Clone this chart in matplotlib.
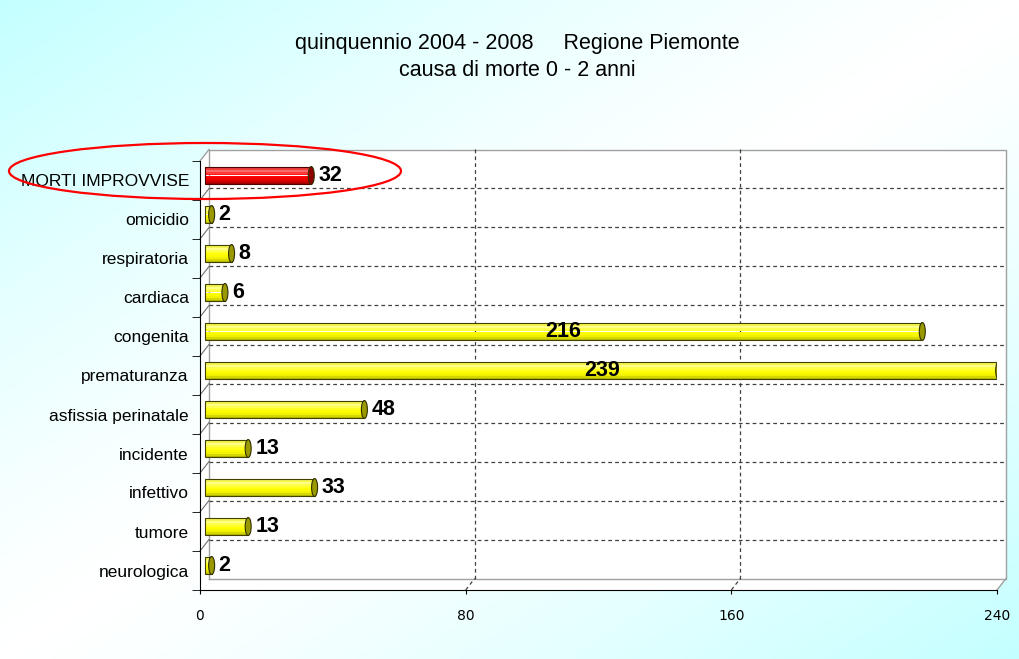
import matplotlib
matplotlib.use('Agg')
import matplotlib.pyplot as plt
import numpy as np
from matplotlib.colors import LinearSegmentedColormap
from matplotlib.transforms import ScaledTranslation
from matplotlib.patches import Polygon, Ellipse

# data, top to bottom as in the picture
categorie = ['MORTI IMPROVVISE', 'omicidio', 'respiratoria', 'cardiaca', 'congenita',
             'prematuranza', 'asfissia perinatale', 'incidente', 'infettivo', 'tumore',
             'neurologica']
valori = [32, 2, 8, 6, 216, 239, 48, 13, 33, 13, 2]
evidenziata = 'MORTI IMPROVVISE'
xticks = [0, 80, 160, 240]
titolo = 'quinquennio 2004 - 2008     Regione Piemonte\ncausa di morte 0 - 2 anni'

W, H = 1019, 659
plt.rcParams['font.family'] = ['Liberation Sans', 'DejaVu Sans']

fig = plt.figure(figsize=(W / 100, H / 100), dpi=100)

# background: cyan in top-left and bottom-right corners, white along the other diagonal
bg = fig.add_axes([0, 0, 1, 1], zorder=0)
yy, xx = np.mgrid[0:1:200j, 0:1:300j]
grad = np.abs(xx + yy - 1) ** 1.3
bg.imshow(grad, extent=[0, 1, 0, 1], aspect='auto', origin='upper',
          cmap=LinearSegmentedColormap.from_list('bg', ['#ffffff', '#c4ffff']))
bg.axis('off')

ax = fig.add_axes([200 / W, 69 / H, 797 / W, 429 / H], zorder=1)
ax.set_facecolor('none')
n = len(categorie)
ypos = np.arange(n)[::-1]
ax.set_xlim(0, 240)
ax.set_ylim(-0.5, n - 0.5)

dxp, dyp = 9, 11.5
back = ScaledTranslation(dxp / 100, dyp / 100, fig.dpi_scale_trans)
mid = ScaledTranslation(5 / 100, 5 / 100, fig.dpi_scale_trans)
dx, dy = dxp / 797, dyp / 429

# 3d box
ax.add_patch(Polygon([(0, 0), (1, 0), (1 + dx, dy), (1 + dx, 1 + dy), (dx, 1 + dy), (0, 1)],
                     closed=True, transform=ax.transAxes, fc='white', ec='none',
                     clip_on=False, zorder=0))
ax.plot([dx, 1 + dx, 1 + dx, dx, dx], [dy, dy, 1 + dy, 1 + dy, dy], color='#a0a0a0',
        lw=1, transform=ax.transAxes, clip_on=False, zorder=1)
ax.plot([1, 1 + dx], [0, dy], color='#a0a0a0', lw=1, transform=ax.transAxes,
        clip_on=False, zorder=1)
ax.plot([0, dx], [1, 1 + dy], color='#a0a0a0', lw=1, transform=ax.transAxes,
        clip_on=False, zorder=1)

dash = (0, (3, 2.5))
bordi = np.arange(n - 1) + 0.5
inv = ax.transData.inverted()
for b in bordi:
    ax.plot([0, 240], [b, b], color='#404040', lw=0.9, ls=dash,
            transform=ax.transData + back, clip_on=False, zorder=1)
    p0 = ax.transData.transform((0, b))
    q0, q1 = inv.transform(p0), inv.transform(p0 + np.array([dxp, dyp]))
    ax.plot([q0[0], q1[0]], [q0[1], q1[1]], color='#707070', lw=0.8, clip_on=False, zorder=1)
for xv in xticks[1:-1]:
    ax.plot([xv, xv], [-0.5, n - 0.5], color='#404040', lw=0.9, ls=dash,
            transform=ax.transData + back, clip_on=False, zorder=1)
    p0 = ax.transData.transform((xv, -0.5))
    q0, q1 = inv.transform(p0), inv.transform(p0 + np.array([dxp, dyp]))
    ax.plot([q0[0], q1[0]], [q0[1], q1[1]], color='#404040', lw=0.9, ls=dash,
            clip_on=False, zorder=1)

# cylinder bars
h = 0.46
strisce = 10
giallo = LinearSegmentedColormap.from_list('g', ['#b8b800', '#f0f000', '#ffff00', '#ffff30', '#ffff90', '#e6e600'])
rosso = LinearSegmentedColormap.from_list('r', ['#a00000', '#e00000', '#ff0000', '#ff2020', '#ff7070', '#d00000'])
tr = ax.transData + mid
cap_w = 6 / (797 / 240)
for cat, v, y in zip(categorie, valori, ypos):
    cm = rosso if cat == evidenziata else giallo
    capc = '#900000' if cat == evidenziata else '#9a9a00'
    for k in range(strisce):
        ax.barh(y - h / 2 + k * h / strisce, v, height=h / strisce, left=0, align='edge',
                color=cm(k / (strisce - 1)), lw=0, transform=tr, zorder=3)
    ax.barh(y, v, height=h, left=0, fc='none', ec='#404000' if cat != evidenziata else '#500000',
            lw=0.8, transform=tr, zorder=4)
    ax.add_patch(Ellipse((v, y), cap_w, h, fc=capc, ec='#303000', lw=0.8, transform=tr, zorder=5))
    if v > 150:
        ax.text(v / 2, y, str(v), transform=tr, ha='center', va='center', fontsize=15.5,
                fontweight='bold', zorder=6)
    else:
        ax.text(v, y, str(v), transform=tr + ScaledTranslation(7 / 100, 0, fig.dpi_scale_trans),
                ha='left', va='center', fontsize=15.5, fontweight='bold', zorder=6)

# axes
for s in ['top', 'right']:
    ax.spines[s].set_visible(False)
ax.spines['left'].set_color('black')
ax.spines['bottom'].set_color('black')
ax.set_yticks(ypos)
ax.set_yticklabels(categorie, fontsize=12.5)
ax.tick_params(axis='y', which='major', length=0, pad=8)
ax.set_yticks(np.arange(-0.5, n), minor=True)
ax.tick_params(axis='y', which='minor', length=6, direction='out', color='black')
ax.set_xticks(xticks)
ax.set_xticklabels([str(x) for x in xticks], fontsize=10,
                   family=['Liberation Sans Narrow', 'DejaVu Sans'])
ax.tick_params(axis='x', length=3, pad=11, color='black')

fig.text(0.508, 1 - 57 / H, titolo, ha='center', va='center', fontsize=15.5,
         linespacing=1.35)

# red ellipse around the highlighted row
fig.add_artist(Ellipse((205 / W, 1 - 171 / H), 392 / W, 56 / H, transform=fig.transFigure,
                       fill=False, ec='#ff0000', lw=1.6, zorder=10))

fig.savefig('out.png', dpi=100)
